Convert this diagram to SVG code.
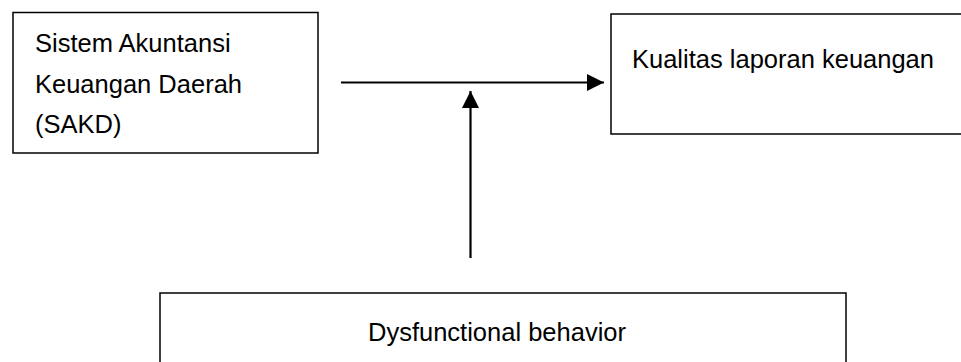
<svg xmlns="http://www.w3.org/2000/svg" width="961" height="362" viewBox="0 0 961 362">
<style>
.box{fill:#fff;stroke:#000;stroke-width:1.5}
.t{font-family:"Liberation Sans",Arial,sans-serif;font-size:25.5px;fill:#000}
.c{stroke:#000;stroke-width:2.2;fill:none}
</style>
<defs>
<marker id="ah" markerUnits="userSpaceOnUse" markerWidth="17" markerHeight="17" viewBox="0 0 16 16" refX="16" refY="8" orient="auto">
<path d="M0,0 L16,8 L0,16 Z" fill="#000"/>
</marker>
</defs>
<rect width="961" height="362" fill="#fff"/>
<g id="sakd">
<rect class="box" x="13" y="12.5" width="305" height="140.5"/>
<text class="t" x="35" y="52">Sistem Akuntansi</text>
<text class="t" x="35" y="93">Keuangan Daerah</text>
<text class="t" x="35" y="133">(SAKD)</text>
</g>
<g id="kualitas">
<rect class="box" x="611" y="14" width="360" height="120"/>
<text class="t" x="632" y="68">Kualitas laporan keuangan</text>
</g>
<g id="dysfunctional">
<rect class="box" x="160" y="293" width="686" height="90"/>
<text class="t" x="497" y="341" text-anchor="middle">Dysfunctional behavior</text>
</g>
<g id="connectors">
<line class="c" x1="341" y1="82.5" x2="604" y2="82.5" marker-end="url(#ah)"/>
<line class="c" x1="470.5" y1="258" x2="470.5" y2="91" marker-end="url(#ah)"/>
</g>
</svg>
